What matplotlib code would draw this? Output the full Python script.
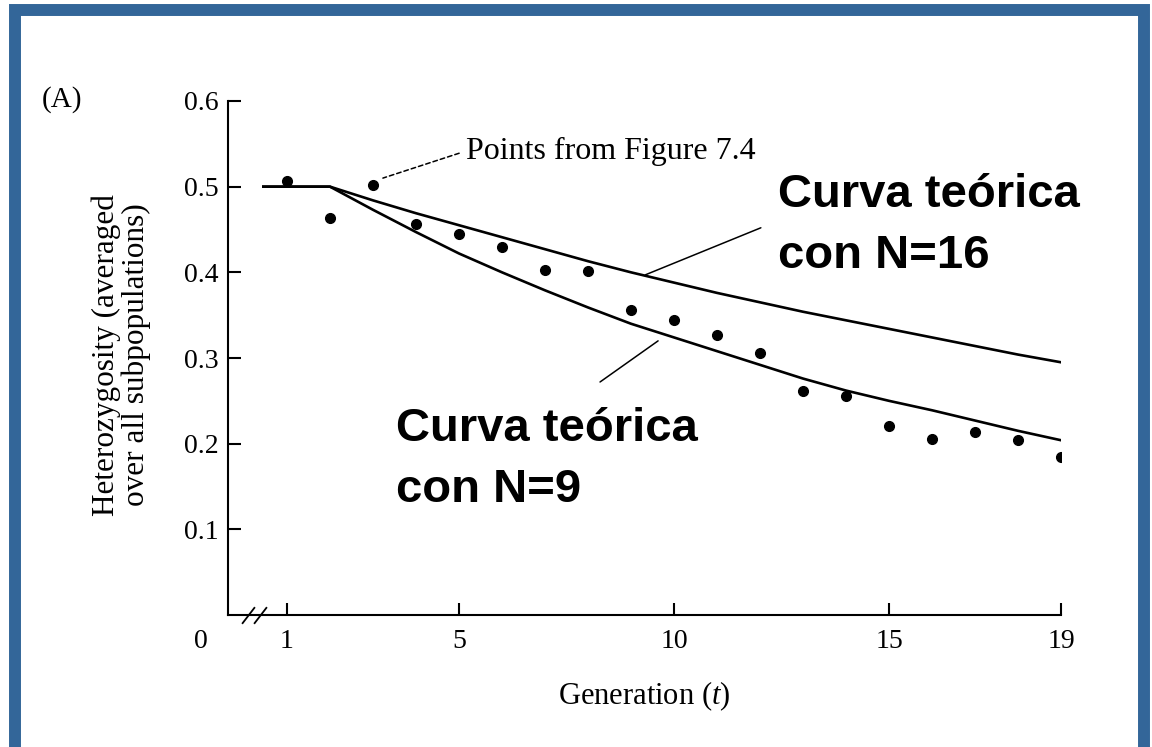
import matplotlib
matplotlib.use("Agg")
import matplotlib.pyplot as plt
from matplotlib.patches import Rectangle

# observed heterozygosity, one point per generation
generation = list(range(1, 20))
heterozygosity = [0.507, 0.463, 0.502, 0.456, 0.445, 0.429, 0.403, 0.401, 0.356, 0.344,
                  0.327, 0.306, 0.261, 0.256, 0.221, 0.206, 0.214, 0.204, 0.185]

# theoretical curves
curve_generation = [0.45, 2, 3, 4, 5, 6, 7, 8, 9, 10, 11, 12, 13, 14, 15, 16, 17, 18, 19]
curve_n16 = [0.500, 0.500, 0.484, 0.469, 0.455, 0.441, 0.427, 0.413, 0.400, 0.388,
             0.376, 0.365, 0.354, 0.344, 0.334, 0.324, 0.314, 0.304, 0.295]
curve_n9 = [0.500, 0.500, 0.473, 0.447, 0.422, 0.400, 0.379, 0.359, 0.340, 0.324,
            0.308, 0.292, 0.276, 0.262, 0.250, 0.239, 0.227, 0.215, 0.204]

x_ticks = [1, 5, 10, 15, 19]
y_ticks = [0.1, 0.2, 0.3, 0.4, 0.5, 0.6]

plt.rcParams['font.family'] = ['Liberation Serif', 'DejaVu Serif']
plt.rcParams['mathtext.fontset'] = 'custom'
plt.rcParams['mathtext.rm'] = 'Liberation Serif'
plt.rcParams['mathtext.it'] = 'Liberation Serif:italic'

W, H = 1152, 747
fig = plt.figure(figsize=(W / 100, H / 100), dpi=100)
fig.patch.set_facecolor('white')

# blue frame around the slide
fig.patches.append(Rectangle((15 / W, -6 / H), (1144 - 15) / W, (747 - 10 + 6) / H,
                             transform=fig.transFigure, fill=False,
                             edgecolor='#336699', linewidth=8.6))

ax = fig.add_axes([228 / W, (H - 615) / H, (1061 - 228) / W, (615 - 101) / H])

ax.plot(curve_generation, curve_n16, color='black', lw=1.9)
ax.plot(curve_generation, curve_n9, color='black', lw=1.9)
ax.plot(generation, heterozygosity, 'o', color='black', ms=7, ls='none')

ax.set_xlim(-0.372, 19)
ax.set_ylim(0, 0.6)
ax.set_xticks(x_ticks)
ax.set_yticks(y_ticks)
ax.set_yticklabels(['{:.1f}'.format(v) for v in y_ticks])

for side in ['top', 'right']:
    ax.spines[side].set_visible(False)
for side in ['left', 'bottom']:
    ax.spines[side].set_linewidth(1.5)

ax.tick_params(direction='in', length=9, width=1.5, labelsize=20)
ax.tick_params(axis='x', pad=10)
ax.tick_params(axis='y', pad=7)

# the "0" at the origin and the axis break
ax.annotate('0', xy=(0, 0), xycoords='axes fraction', xytext=(-19.5, -10),
            textcoords='offset points', ha='center', va='top', fontsize=20)
ax.plot([0.10, 0.37], [0, 0], transform=ax.get_xaxis_transform(),
        marker=[(-1, -1.3), (1, 1.3)], markersize=12, ls='none',
        color='black', mew=1.3, clip_on=False)

ax.set_xlabel('Generation ($t$)', fontsize=22)
ax.xaxis.set_label_coords(0.5, -0.125)
ax.set_ylabel('Heterozygosity (averaged\nover all subpopulations)', fontsize=22.5,
              linespacing=1.0, va='center')
ax.yaxis.set_label_coords(-0.128, 0.506)

fig.text(42 / W, (H - 100) / H, '(A)', fontsize=21, ha='left', va='center')

ax.annotate('Points from Figure 7.4', xy=(3.23, 0.510), xytext=(5.16, 0.5416),
            ha='left', va='center', fontsize=23,
            arrowprops=dict(arrowstyle='-', ls=(0, (3, 2)), lw=1.1, color='black',
                            relpos=(0, 0.5), shrinkA=3, shrinkB=0))

# leader lines for the Spanish labels
ax.annotate('', xy=(9.33, 0.397), xytext=(12.02, 0.452),
            arrowprops=dict(arrowstyle='-', lw=1.1, color='black', shrinkA=0, shrinkB=0))
ax.annotate('', xy=(9.63, 0.320), xytext=(8.28, 0.272),
            arrowprops=dict(arrowstyle='-', lw=1.1, color='black', shrinkA=0, shrinkB=0))

# va='baseline' pins the baseline of the last line
ax.text(12.42, 0.405, 'Curva teórica\ncon N=16', fontfamily='Liberation Sans',
        fontweight='bold', fontsize=34, ha='left', va='baseline', linespacing=1.5)
ax.text(3.53, 0.132, 'Curva teórica\ncon N=9', fontfamily='Liberation Sans',
        fontweight='bold', fontsize=34, ha='left', va='baseline', linespacing=1.5)

fig.savefig('out.png', dpi=100, facecolor=fig.get_facecolor())
